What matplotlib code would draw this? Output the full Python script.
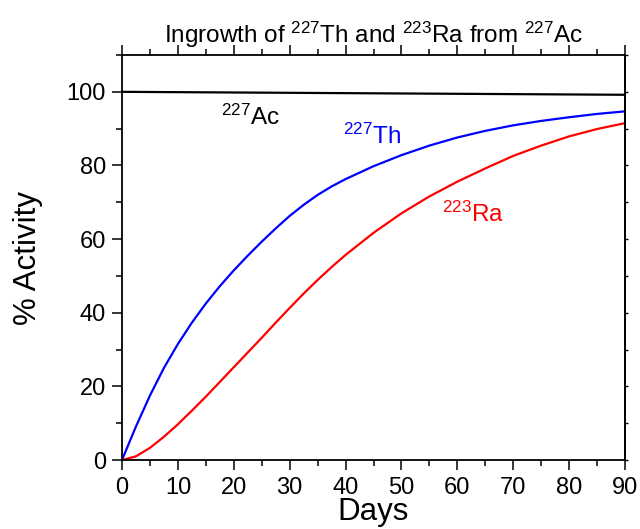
import matplotlib
matplotlib.use("Agg")
import matplotlib.pyplot as plt
from matplotlib.ticker import MultipleLocator

plt.rcParams['font.family'] = ['Liberation Sans', 'DejaVu Sans']
plt.rcParams['mathtext.fontset'] = 'custom'
plt.rcParams['mathtext.rm'] = 'Liberation Sans'
plt.rcParams['mathtext.it'] = 'Liberation Sans'

# values (days, % activity)
days = [0, 2.5, 5, 7.5, 10, 12.5, 15, 17.5, 20, 22.5, 25, 27.5, 30, 32.5, 35,
        37.5, 40, 45, 50, 55, 60, 65, 70, 75, 80, 85, 90]
th227 = [0, 9.1, 17.5, 25, 31.5, 37.3, 42.5, 47.2, 51.5, 55.5, 59.3, 62.9, 66.3, 69.3, 72.0,
         74.3, 76.3, 79.8, 82.8, 85.4, 87.6, 89.4, 90.9, 92.1, 93.1, 94.0, 94.7]
ra223 = [0, 1.0, 3.3, 6.3, 9.7, 13.4, 17.2, 21.2, 25.2, 29.2, 33.2, 37.3, 41.3, 45.2, 48.9,
         52.4, 55.7, 61.7, 67.0, 71.6, 75.6, 79.2, 82.6, 85.4, 87.9, 89.9, 91.5]
ac_days = [0, 45, 90]
ac227 = [100, 99.6, 99.2]

fig = plt.figure(figsize=(6.4, 5.29), dpi=100)
ax = fig.add_axes([0.1906, 0.1304, 0.786, 0.7656])

ax.plot(ac_days, ac227, color='black', lw=1.6)
ax.plot(days, th227, color='#0000ff', lw=1.6)
ax.plot(days, ra223, color='#ff0000', lw=1.6)

ax.set_xlim(0, 90)
ax.set_ylim(0, 110)
ax.xaxis.set_major_locator(MultipleLocator(10))
ax.xaxis.set_minor_locator(MultipleLocator(5))
ax.yaxis.set_major_locator(MultipleLocator(20))
ax.yaxis.set_minor_locator(MultipleLocator(10))

ax.tick_params(which='both', direction='out', width=1.1, labelsize=17,
               top=True, right=False)
ax.tick_params(which='major', length=7.5)
ax.tick_params(which='minor', length=4.5)
ax.tick_params(axis='x', which='major', pad=5)
ax.tick_params(axis='y', which='major', pad=4)

# small ticks on the right spine
sec = ax.secondary_yaxis('right')
sec.yaxis.set_major_locator(MultipleLocator(10))
sec.tick_params(direction='out', length=2.5, width=1.0, labelright=False)
sec.spines['right'].set_linewidth(1.3)

for s in ax.spines.values():
    s.set_linewidth(1.3)

ax.set_xlabel('Days', fontsize=22.5, va='baseline')
ax.set_ylabel('% Activity', fontsize=22.5)
ax.xaxis.set_label_coords(0.5, -0.148)
ax.yaxis.set_label_coords(-0.157, 0.5)
ax.set_title(r'Ingrowth of $^{227}$Th and $^{223}$Ra from $^{227}$Ac', fontsize=17.5, pad=9)

ax.text(17.8, 91.0, r'$^{227}$Ac', fontsize=17.5, color='black', va='baseline')
ax.text(39.6, 85.9, r'$^{227}$Th', fontsize=17.5, color='#0000ff', va='baseline')
ax.text(57.2, 64.7, r'$^{223}$Ra', fontsize=17.5, color='#ff0000', va='baseline')

fig.savefig('out.png', dpi=100)
